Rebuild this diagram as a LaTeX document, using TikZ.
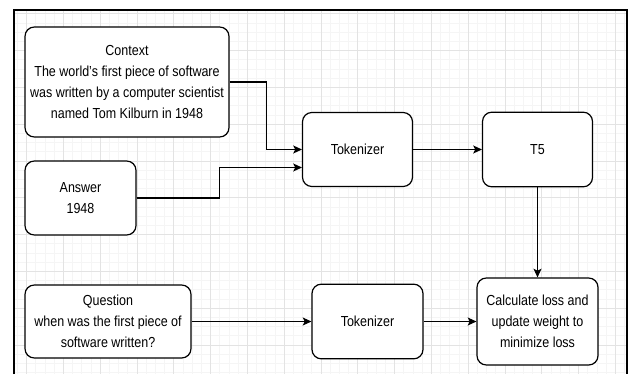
\documentclass[tikz,border=0pt]{standalone}
\usepackage{fontspec}
\setmainfont[FakeStretch=0.86]{Liberation Sans}
\usetikzlibrary{arrows.meta}

\tikzset{
  box/.style={draw, fill=white, rounded corners=7pt, line width=0.9pt, align=center, inner sep=0pt, font=\fontsize{10.9}{15.7}\selectfont},
  arr/.style={-{Stealth[length=6.5pt,width=6pt,inset=1.5pt]}, line width=0.8pt},
  minorline/.style={black!4, line width=0.5pt},
  majorline/.style={black!11, line width=0.6pt}
}

\begin{document}
\begin{tikzpicture}[x=0.75pt, y=-0.75pt]
        \useasboundingbox (0,0) rectangle (630,374);

        % Lưới nền
        \begin{scope}
          \clip (14,10) rectangle (627,374);
          \foreach \i in {0,...,68} \draw[minorline] ({8.1+9.2*\i},10) -- ({8.1+9.2*\i},374);
          \foreach \i in {0,...,40} \draw[minorline] (14,{4.5+9.2*\i}) -- (627,{4.5+9.2*\i});
          \foreach \i in {0,...,17} \draw[majorline] ({26.5+36.8*\i},10) -- ({26.5+36.8*\i},374);
          \foreach \i in {0,...,10} \draw[majorline] (14,{13.7+36.8*\i}) -- (627,{13.7+36.8*\i});
        \end{scope}
        \draw[line width=1pt] (14,374) -- (14,10) -- (627,10) -- (627,374);

        % Các khối đầu vào
        \node[box, minimum width=153pt, minimum height=82.5pt] (ctx) at (127,82) {Context\\The world's first piece of software\\was written by a computer scientist\\named Tom Kilburn in 1948};
        \node[box, minimum width=83.25pt, minimum height=55.5pt] (ans) at (80.5,198) {Answer\\1948};
        \node[box, minimum width=124.5pt, minimum height=54.75pt] (que) at (108,321.5) {Question\\when was the first piece of\\software written?};

        % Các khối xử lý
        \node[box, minimum width=82.5pt, minimum height=55.5pt] (tok1) at (357.5,149.5) {Tokenizer};
        \node[box, minimum width=82.5pt, minimum height=56pt] (t5) at (537.5,149.5) {T5};
        \node[box, minimum width=83.25pt, minimum height=56pt] (tok2) at (367.5,321.5) {Tokenizer};
        \node[box, minimum width=90.75pt, minimum height=65.25pt] (loss) at (537.5,321.5) {Calculate loss and\\update weight to\\minimize loss};

        % Mũi tên
        \draw[arr] (ctx.east) -- ++(37,0) |- (tok1.west);
        \draw[arr] (ans.east) -- ++(83,0) |- ([yshift=-13.5pt]tok1.west);
        \draw[arr] (tok1) -- (t5);
        \draw[arr] (t5) -- (loss);
        \draw[arr] (que) -- (tok2);
        \draw[arr] (tok2) -- (loss);
    \end{tikzpicture}
\end{document}
